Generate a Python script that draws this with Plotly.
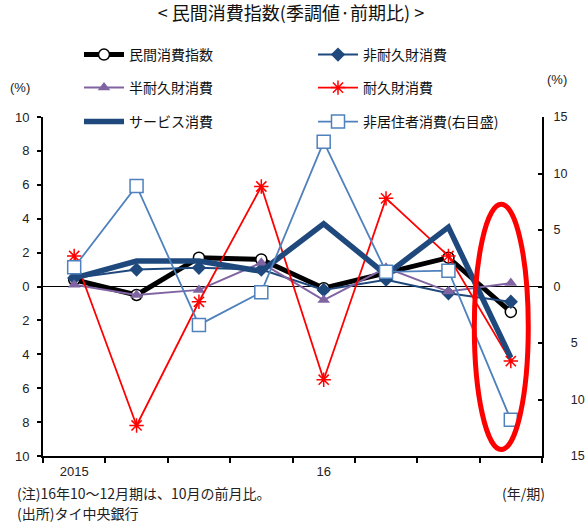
import plotly.graph_objects as go

# Quarterly categories (2015 Q1 - 2016 Q4)
quarters = ["2015Q1", "2015Q2", "2015Q3", "2015Q4", "2016Q1", "2016Q2", "2016Q3", "2016Q4"]
tick_labels = {0: "2015", 4: "16"}

# Quarter-on-quarter change, % (seasonally adjusted)
private_consumption = [0.4, -0.5, 1.7, 1.6, -0.1, 0.8, 1.7, -1.5]
non_durable = [0.5, 1.0, 1.1, 1.0, -0.2, 0.4, -0.4, -0.9]
semi_durable = [0.1, -0.5, -0.2, 1.4, -0.8, 1.1, -0.3, 0.2]
durable = [1.8, -8.2, -0.9, 5.9, -5.5, 5.2, 1.8, -4.4]
services = [0.5, 1.5, 1.5, 0.9, 3.7, 0.7, 3.5, -4.2]
non_resident = [1.7, 8.9, -3.4, -0.5, 12.8, 1.3, 1.4, -11.8]  # right axis

W, H = 586, 522
L, R, T, B = 43, 44, 117, 66
PW, PH = W - L - R, H - T - B

FONT = "Liberation Sans, Arial, Noto Sans CJK JP, sans-serif"
JP = "Noto Sans CJK JP, Liberation Sans, sans-serif"


def px_x(p):
    return (p - L) / PW


def px_y(p):
    return (H - B - p) / PH


x = list(range(len(quarters)))

fig = go.Figure()

fig.add_trace(go.Scatter(
    x=x, y=private_consumption, name="民間消費指数", mode="lines+markers",
    line=dict(color="black", width=5),
    marker=dict(symbol="circle", size=11, color="white", line=dict(color="black", width=1.5)),
    legend="legend",
))
fig.add_trace(go.Scatter(
    x=x, y=non_durable, name="非耐久財消費", mode="lines+markers",
    line=dict(color="#1F497D", width=2),
    marker=dict(symbol="diamond", size=11, color="#1F497D"),
    legend="legend2",
))
fig.add_trace(go.Scatter(
    x=x, y=semi_durable, name="半耐久財消費", mode="lines+markers",
    line=dict(color="#8064A2", width=2),
    marker=dict(symbol="triangle-up", size=11, color="#8064A2"),
    legend="legend3",
))
fig.add_trace(go.Scatter(
    x=x, y=durable, name="耐久財消費", mode="lines+markers",
    line=dict(color="#FF0000", width=1.8),
    marker=dict(symbol="asterisk-open", size=12, color="#FF0000", line=dict(color="#FF0000", width=1.5)),
    legend="legend4",
))
fig.add_trace(go.Scatter(
    x=x, y=services, name="サービス消費", mode="lines",
    line=dict(color="#1F497D", width=5.5),
    legend="legend5",
))
fig.add_trace(go.Scatter(
    x=x, y=non_resident, name="非居住者消費(右目盛)", mode="lines+markers",
    yaxis="y2",
    line=dict(color="#4F81BD", width=1.8),
    marker=dict(symbol="square", size=13, color="white", line=dict(color="#4F81BD", width=1.5)),
    legend="legend6",
))

left_vals = list(range(-10, 11, 2))
right_vals = list(range(-15, 16, 5))
right_text = [("\u00a0" * 5 + str(-v)) if v < 0 else str(v) for v in right_vals]


def legend_box(px, py):
    return dict(
        orientation="h", xanchor="left", yanchor="middle",
        x=px_x(px), y=px_y(py), itemwidth=40,
        font=dict(family=JP, size=14, color="#111"),
        bgcolor="rgba(0,0,0,0)", itemclick=False, itemdoubleclick=False,
    )


COL1, COL2 = 79, 313
ROWS = [55, 88, 122]

fig.update_layout(
    width=W, height=H,
    margin=dict(l=L, r=R, t=T, b=B, pad=0, autoexpand=False),
    paper_bgcolor="white", plot_bgcolor="white",
    font=dict(family=FONT, size=13, color="#222"),
    showlegend=True,
    title=dict(text="< 民間消費指数(季調値·前期比) >", x=291 / W, xanchor="center",
               y=1 - 14 / H, yanchor="middle", yref="container",
               font=dict(family=JP, size=18, color="#111")),
    legend=legend_box(COL1, ROWS[0]),
    legend2=legend_box(COL2, ROWS[0]),
    legend3=legend_box(COL1, ROWS[1]),
    legend4=legend_box(COL2, ROWS[1]),
    legend5=legend_box(COL1, ROWS[2]),
    legend6=legend_box(COL2, ROWS[2]),
    xaxis=dict(
        range=[-0.5, len(quarters) - 0.5], showgrid=False, zeroline=False, automargin=False,
        showline=True, linecolor="black", linewidth=2,
        tickmode="array", tickvals=list(tick_labels.keys()), ticktext=list(tick_labels.values()),
        ticks="", ticklabelstandoff=2, tickfont=dict(size=13, color="#222"),
        minor=dict(tickmode="array", tickvals=[i - 0.5 for i in range(len(quarters) + 1)],
                   ticks="outside", ticklen=5, tickwidth=1.5, tickcolor="black"),
    ),
    yaxis=dict(
        range=[-10, 10], showgrid=False, automargin=False,
        zeroline=True, zerolinecolor="black", zerolinewidth=1,
        showline=True, linecolor="black", linewidth=2,
        tickmode="array", tickvals=left_vals, ticktext=[str(abs(v)) for v in left_vals],
        ticks="outside", ticklen=4, tickwidth=1.5, tickcolor="black",
        ticklabelstandoff=5, tickfont=dict(size=13, color="#222"),
    ),
    yaxis2=dict(
        range=[-15, 15], overlaying="y", side="right", showgrid=False, zeroline=False,
        automargin=False,
        showline=True, linecolor="black", linewidth=2,
        tickmode="array", tickvals=right_vals, ticktext=right_text,
        ticks="inside", ticklen=4, tickwidth=1.5, tickcolor="black",
        ticklabelstandoff=7, tickfont=dict(size=12.5, color="#222"),
    ),
    shapes=[dict(
        type="circle", xref="x", yref="y", layer="above",
        x0=6.415, x1=7.28, y0=-9.62, y1=4.85,
        line=dict(color="#FF0000", width=5),
    )],
    annotations=[
        dict(text="(%)", xref="paper", yref="paper", x=px_x(20), y=px_y(87),
             xanchor="center", yanchor="middle", showarrow=False,
             font=dict(size=13, color="#222")),
        dict(text="(%)", xref="paper", yref="paper", x=px_x(557), y=px_y(80),
             xanchor="center", yanchor="middle", showarrow=False,
             font=dict(size=13, color="#222")),
        dict(text="(注)16年10～12月期は、10月の前月比。", xref="paper", yref="paper",
             x=px_x(15), y=px_y(493), xanchor="left", yanchor="middle", showarrow=False,
             font=dict(family=JP, size=14, color="#222")),
        dict(text="(出所)タイ中央銀行", xref="paper", yref="paper",
             x=px_x(15), y=px_y(513), xanchor="left", yanchor="middle", showarrow=False,
             font=dict(family=JP, size=14, color="#222")),
        dict(text="(年/期)", xref="paper", yref="paper",
             x=px_x(547), y=px_y(493), xanchor="right", yanchor="middle", showarrow=False,
             font=dict(family=JP, size=14, color="#222")),
    ],
)

fig.write_html("out.html")
